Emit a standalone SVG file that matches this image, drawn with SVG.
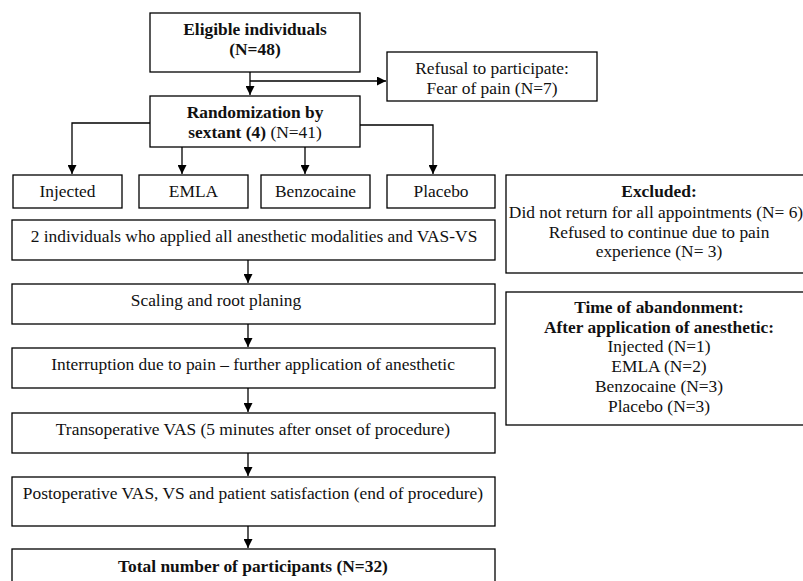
<svg xmlns="http://www.w3.org/2000/svg" width="803" height="581" viewBox="0 0 803 581" font-family="'Liberation Serif', 'Times New Roman', serif" font-size="17.4">
<defs>
<marker id="ah" viewBox="0 0 10 10" refX="10" refY="5" markerWidth="9" markerHeight="9" markerUnits="userSpaceOnUse" orient="auto">
<path d="M0,0 L10,5 L0,10 Z" fill="#000"/>
</marker>
<style>
rect{fill:#fff;stroke:#000;stroke-width:1.3}
text{fill:#111;text-anchor:middle}
.b{font-weight:bold}
.c{fill:none;stroke:#000;stroke-width:1.3;marker-end:url(#ah)}
</style>
</defs>
<rect width="803" height="581" style="fill:#fff;stroke:none"/>
<g id="connectors">
<path class="c" d="M250,72 V95"/>
<path class="c" d="M250,81 H386"/>
<path class="c" d="M150,123 H72 V174"/>
<path class="c" d="M182,147 V174"/>
<path class="c" d="M305,147 V174"/>
<path class="c" d="M360,125 H433 V174"/>
<path class="c" d="M248,260 V283"/>
<path class="c" d="M248,324 V347"/>
<path class="c" d="M248,388 V412"/>
<path class="c" d="M248,453 V476"/>
<path class="c" d="M248,526 V548"/>
</g>
<g id="eligible"><rect x="150" y="13" width="210" height="59"/>
<text class="b" x="255" y="35">Eligible individuals</text><text class="b" x="255" y="55">(N=48)</text></g>
<g id="refusal"><rect x="387" y="52" width="210" height="49"/>
<text x="492" y="74">Refusal to participate:</text><text x="492" y="94">Fear of pain (N=7)</text></g>
<g id="randomization"><rect x="150" y="96" width="210" height="51"/>
<text class="b" x="255" y="118">Randomization by</text><text x="255" y="138"><tspan class="b">sextant (4)</tspan> (N=41)</text></g>
<g id="injected"><rect x="13" y="175" width="109" height="33"/><text x="67.5" y="197">Injected</text></g>
<g id="emla"><rect x="139" y="175" width="109" height="33"/><text x="193.5" y="197">EMLA</text></g>
<g id="benzocaine"><rect x="261" y="175" width="109" height="33"/><text x="315.5" y="197">Benzocaine</text></g>
<g id="placebo"><rect x="387" y="175" width="108" height="33"/><text x="441" y="197">Placebo</text></g>
<g id="excluded"><rect x="506" y="175" width="298" height="98"/>
<text class="b" x="659" y="197">Excluded:</text>
<text x="656" y="218">Did not return for all appointments (N= 6)</text>
<text x="659" y="238">Refused to continue due to pain</text>
<text x="659" y="257">experience (N= 3)</text></g>
<g id="abandonment"><rect x="506" y="292" width="298" height="133"/>
<text class="b" x="659" y="313">Time of abandonment:</text>
<text class="b" x="659" y="333">After application of anesthetic:</text>
<text x="659" y="352">Injected (N=1)</text>
<text x="659" y="372">EMLA (N=2)</text>
<text x="659" y="392">Benzocaine (N=3)</text>
<text x="659" y="412">Placebo (N=3)</text></g>
<g id="step1"><rect x="12" y="220" width="483" height="40"/><text x="254" y="242">2 individuals who applied all anesthetic modalities and VAS-VS</text></g>
<g id="step2"><rect x="12" y="284" width="483" height="40"/><text x="216" y="306">Scaling and root planing</text></g>
<g id="step3"><rect x="12" y="348" width="483" height="40"/><text x="253" y="370">Interruption due to pain – further application of anesthetic</text></g>
<g id="step4"><rect x="12" y="413" width="483" height="40"/><text x="253" y="435">Transoperative VAS (5 minutes after onset of procedure)</text></g>
<g id="step5"><rect x="12" y="477" width="483" height="49"/><text x="253" y="499">Postoperative VAS, VS and patient satisfaction (end of procedure)</text></g>
<g id="total"><rect x="12" y="549" width="483" height="40"/><text class="b" x="253" y="572">Total number of participants (N=32)</text></g>
</svg>
